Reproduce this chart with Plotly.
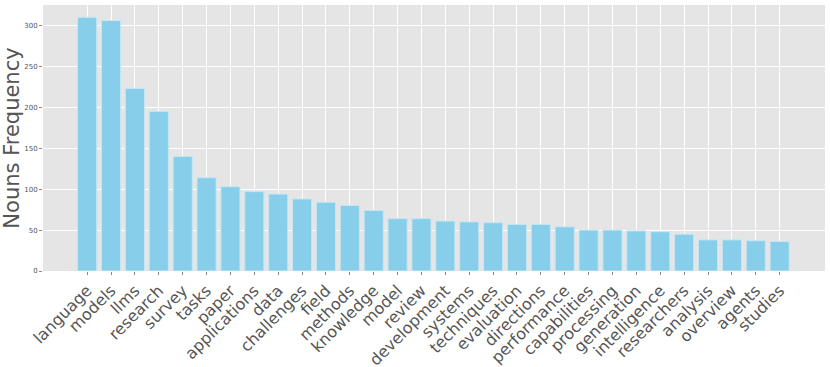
import plotly.graph_objects as go

nouns = [
    "language", "models", "llms", "research", "survey", "tasks", "paper",
    "applications", "data", "challenges", "field", "methods", "knowledge",
    "model", "review", "development", "systems", "techniques", "evaluation",
    "directions", "performance", "capabilities", "processing", "generation",
    "intelligence", "researchers", "analysis", "overview", "agents", "studies",
]
frequency = [
    310, 306, 223, 195, 140, 114, 103, 97, 94, 88, 84, 80, 74,
    64, 64, 61, 60, 59, 57, 57, 54, 50, 50, 49, 48, 45, 38, 38, 37, 36,
]
y_ticks = [0, 50, 100, 150, 200, 250, 300]

fig = go.Figure(
    go.Bar(
        x=list(range(len(nouns))),
        y=frequency,
        width=0.8,
        marker=dict(color="#87CEEB", line=dict(color="#c8e6f2", width=1)),
    )
)

fig.update_layout(
    width=830,
    height=367,
    margin=dict(l=43, r=5, t=5, b=96, autoexpand=False),
    paper_bgcolor="white",
    plot_bgcolor="#E5E5E5",
    font=dict(family="DejaVu Sans", color="#555555"),
    showlegend=False,
    bargap=0.2,
)
fig.update_xaxes(
    automargin=False,
    range=[-1.85, 30.9],
    tickmode="array",
    tickvals=list(range(len(nouns))),
    ticktext=nouns,
    tickangle=-45,
    tickfont=dict(size=16, color="#555555"),
    showgrid=True,
    gridcolor="white",
    gridwidth=1,
    ticks="outside",
    ticklen=3,
    tickcolor="#888888",
    zeroline=False,
)
fig.update_yaxes(
    automargin=False,
    range=[0, 325],
    tickvals=y_ticks,
    tickfont=dict(size=7, color="#555555"),
    showgrid=True,
    gridcolor="white",
    gridwidth=1,
    ticks="outside",
    ticklen=3,
    tickcolor="#888888",
    zeroline=False,
    title=dict(text="Nouns Frequency", font=dict(size=21, color="#555555"), standoff=6),
)

# page body has a default 8px margin; drop it so the figure sits at the corner
fig.write_html(
    "out.html",
    config={"displayModeBar": False},
    post_script="document.body.style.margin='0';",
)
